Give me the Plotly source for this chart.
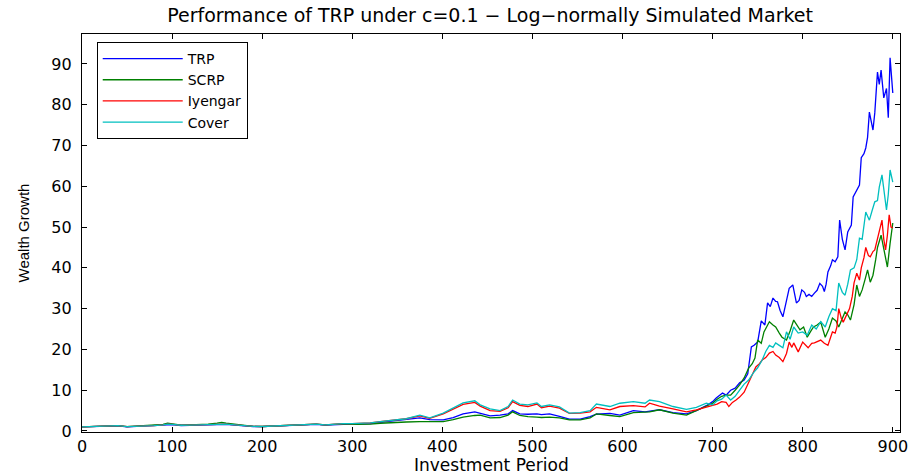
import plotly.graph_objects as go

# ---------------- data ----------------
early_t = [0, 10, 20, 30, 40, 50, 60, 70, 80, 90, 95, 100, 110, 120, 130, 140, 150,
           155, 160, 170, 180, 190, 200, 210, 220, 230, 240, 250, 260, 270, 280, 290, 300,
           310, 320, 331, 345, 360, 375, 386, 401, 412, 423, 436, 442, 453, 464, 473, 478,
           486, 495, 505, 510, 519, 530, 541, 553, 564, 571, 586, 597, 612, 625, 630, 641,
           656, 671, 682, 693]

trp_early = [1.0, 1.1, 1.2, 1.3, 1.25, 1.0, 1.1, 1.2, 1.3, 1.45, 1.6, 1.55, 1.35, 1.4, 1.45,
             1.5, 1.6, 1.7, 1.6, 1.45, 1.25, 1.1, 1.05, 1.15, 1.25, 1.3, 1.35, 1.5, 1.6, 1.45,
             1.6, 1.6, 1.6, 1.7, 1.8, 2.1, 2.4, 2.7, 3.2, 2.8, 2.7, 3.3, 4.2, 4.7, 4.3, 3.7,
             3.9, 4.2, 5.0, 4.2, 4.1, 4.2, 4.0, 4.2, 3.6, 2.9, 2.9, 3.5, 4.1, 4.3, 3.9, 5.0,
             4.7, 4.8, 5.2, 4.5, 4.2, 5.0, 6.2]
scrp_early = [1.0, 1.1, 1.25, 1.35, 1.3, 1.05, 1.15, 1.25, 1.4, 1.6, 1.9, 1.7, 1.45, 1.5,
              1.55, 1.7, 1.9, 2.1, 1.9, 1.6, 1.3, 1.15, 1.1, 1.2, 1.3, 1.35, 1.4, 1.65, 1.7,
              1.5, 1.7, 1.75, 1.6, 1.6, 1.7, 1.9, 2.1, 2.2, 2.3, 2.3, 2.3, 2.8, 3.4, 3.8, 3.9,
              3.2, 3.3, 3.9, 4.7, 3.8, 3.5, 3.4, 3.3, 3.4, 3.2, 2.7, 2.7, 3.2, 4.2, 3.8, 3.5,
              4.5, 4.6, 4.7, 5.2, 4.4, 3.9, 5.0, 6.0]
iyengar_early = [1.0, 1.1, 1.2, 1.3, 1.3, 1.05, 1.1, 1.2, 1.3, 1.5, 1.7, 1.6, 1.4, 1.45, 1.5,
                 1.6, 1.7, 1.8, 1.7, 1.5, 1.3, 1.15, 1.1, 1.2, 1.3, 1.35, 1.4, 1.6, 1.7, 1.5,
                 1.7, 1.8, 1.8, 1.9, 2.0, 2.3, 2.6, 3.0, 3.7, 3.1, 4.2, 5.3, 6.5, 7.0, 6.1,
                 5.0, 4.8, 5.7, 7.2, 6.3, 6.0, 6.6, 5.7, 6.1, 5.6, 4.3, 4.4, 4.7, 5.8, 5.2,
                 6.0, 6.2, 5.9, 6.8, 6.1, 5.4, 4.7, 5.2, 5.9]
cover_early = [1.0, 1.1, 1.2, 1.3, 1.3, 1.05, 1.1, 1.2, 1.3, 1.5, 1.7, 1.6, 1.4, 1.45, 1.5,
               1.6, 1.7, 1.8, 1.7, 1.5, 1.3, 1.15, 1.1, 1.2, 1.3, 1.35, 1.4, 1.6, 1.7, 1.5,
               1.7, 1.8, 1.8, 1.9, 2.0, 2.3, 2.6, 3.0, 3.9, 3.2, 4.4, 5.6, 6.9, 7.4, 6.4,
               5.4, 5.0, 6.0, 7.6, 6.6, 6.4, 6.9, 6.0, 6.4, 5.9, 4.4, 4.5, 5.0, 6.6, 6.0,
               6.8, 7.2, 6.8, 7.6, 7.2, 6.0, 5.3, 5.8, 6.8]

trp_late_t = [700, 704, 711, 715, 720, 725, 730, 735, 739, 743, 746, 750, 754, 758, 761, 764,
              767, 770, 772, 775, 778, 781, 785, 789, 793, 796, 799, 802, 804, 807, 810, 813,
              816, 819, 822, 824, 826, 828, 831, 833, 836, 839, 841, 844, 847, 850, 854, 856,
              860, 863, 865, 868, 870, 872, 874, 876, 878, 880, 883, 885, 887, 890, 893, 895,
              897, 900]
trp_late = [7.2, 8.1, 9.3, 8.8, 10.0, 10.5, 11.8, 12.5, 14.0, 20.6, 21.0, 21.8, 27.0, 26.0,
            31.4, 30.5, 32.6, 31.8, 31.7, 29.5, 28.0, 31.0, 35.0, 35.8, 31.4, 32.0, 34.6, 34.0,
            33.0, 33.5, 33.0, 33.8, 34.5, 36.2, 35.5, 34.2, 36.0, 39.0, 40.5, 42.0, 41.5, 42.7,
            51.7, 47.0, 44.4, 48.8, 50.5, 57.4, 59.0, 60.3, 67.0, 68.0, 69.4, 72.0, 78.2, 76.0,
            73.8, 78.0, 88.0, 85.0, 88.5, 81.7, 84.0, 76.8, 91.5, 82.9]

scrp_late_t = [700, 705, 710, 715, 720, 725, 730, 735, 740, 744, 747, 750, 754, 757, 760, 763,
               767, 770, 774, 777, 782, 786, 790, 794, 797, 801, 805, 809, 812, 816, 820, 825,
               829, 833, 837, 840, 844, 847, 850, 853, 857, 860, 863, 866, 869, 872, 875, 878,
               881, 883, 887, 890, 894, 897, 900]
scrp_late = [6.8, 7.8, 8.5, 8.8, 8.8, 10.0, 11.3, 13.0, 15.4, 16.5, 17.9, 22.3, 21.5, 24.3,
             25.5, 26.8, 26.0, 25.5, 24.0, 23.0, 22.3, 24.5, 27.2, 26.0, 24.8, 25.5, 23.0, 24.5,
             25.5, 26.0, 26.7, 23.0, 25.0, 27.7, 27.0, 25.5, 27.5, 29.2, 28.5, 27.2, 31.0, 35.8,
             33.0, 34.6, 37.0, 39.5, 36.5, 38.2, 42.0, 45.0, 48.0, 44.4, 40.2, 46.0, 51.0]

iyengar_late_t = [700, 705, 710, 715, 718, 722, 726, 730, 735, 740, 744, 748, 752, 755, 759,
                  763, 767, 770, 774, 778, 782, 785, 788, 790, 795, 800, 806, 810, 813, 817,
                  820, 824, 828, 831, 833, 836, 838, 840, 843, 845, 849, 852, 855, 857, 860,
                  863, 865, 868, 870, 873, 875, 878, 880, 883, 885, 888, 890, 892, 894, 896,
                  898, 900]
iyengar_late = [6.2, 6.6, 7.2, 7.0, 6.0, 7.0, 7.6, 8.3, 9.5, 11.8, 13.5, 15.7, 16.5, 17.4, 18.0,
                19.1, 19.5, 18.6, 18.0, 17.0, 19.0, 21.8, 20.5, 21.6, 19.4, 21.8, 20.4, 21.5,
                21.6, 22.0, 22.3, 21.5, 21.0, 23.0, 24.3, 24.0, 25.5, 30.0, 27.5, 26.7, 28.5,
                30.0, 33.0, 36.3, 38.7, 37.0, 40.0, 42.5, 45.0, 43.0, 42.7, 44.0, 44.4, 47.0,
                49.3, 51.7, 47.0, 44.4, 48.0, 53.0, 50.0, 49.8]

cover_late_t = [700, 705, 710, 715, 720, 725, 730, 735, 740, 745, 750, 755, 759, 763, 767, 770,
                774, 778, 782, 786, 790, 795, 800, 805, 810, 815, 820, 825, 829, 833, 837, 840,
                844, 847, 850, 853, 857, 860, 863, 866, 870, 874, 877, 880, 883, 885, 888, 891,
                893, 895, 897, 900]
cover_late = [6.4, 7.4, 7.8, 8.8, 7.6, 8.5, 10.0, 11.5, 12.5, 14.2, 15.5, 17.4, 19.5, 21.0,
              20.5, 21.6, 21.0, 20.4, 24.3, 22.5, 25.5, 24.0, 24.3, 23.5, 26.0, 25.0, 26.8,
              25.5, 28.0, 30.0, 29.5, 36.3, 34.0, 33.3, 36.0, 39.5, 40.0, 42.0, 47.3, 47.0,
              53.7, 51.7, 54.0, 56.2, 56.5, 59.8, 62.8, 58.0, 54.2, 58.0, 64.0, 61.0]

names = ["TRP", "SCRP", "Iyengar", "Cover"]
colors = ["#0000ff", "#008000", "#ff0000", "#00bfbf"]
x_ticks = [0, 100, 200, 300, 400, 500, 600, 700, 800, 900]
y_ticks = [0, 10, 20, 30, 40, 50, 60, 70, 80, 90]

series = [
    (early_t + trp_late_t, trp_early + trp_late),
    (early_t + scrp_late_t, scrp_early + scrp_late),
    (early_t + iyengar_late_t, iyengar_early + iyengar_late),
    (early_t + cover_late_t, cover_early + cover_late),
]

fig = go.Figure()
for name, color, (xs, ys) in zip(names, colors, series):
    fig.add_trace(go.Scatter(x=xs, y=ys, mode="lines", name=name,
                             line=dict(color=color, width=1.3)))

font_main = "DejaVu Sans, Arial, sans-serif"
axis_common = dict(showline=True, mirror="ticks", linecolor="black", linewidth=1.3,
                   ticks="inside", ticklen=5, tickcolor="black", showgrid=False,
                   zeroline=False, automargin=False,
                   tickfont=dict(family=font_main, size=16, color="black"))

fig.update_layout(
    width=916, height=474,
    margin=dict(l=82, r=16, t=34, b=42),
    paper_bgcolor="white", plot_bgcolor="white",
    title=dict(text="Performance of TRP under c=0.1 \u2212 Log\u2212normally Simulated Market",
               x=0.535, xanchor="center", y=0.968, yanchor="middle",
               font=dict(family=font_main, size=19, color="black")),
    xaxis=dict(range=[0, 908], tickvals=x_ticks, ticktext=[str(v) for v in x_ticks],
               ticklabelstandoff=0, **axis_common),
    yaxis=dict(range=[-0.25, 97.35], tickvals=y_ticks, ticktext=[str(v) for v in y_ticks],
               ticklabelstandoff=6,
               title=dict(text="Wealth Growth", standoff=18,
                          font=dict(family="Liberation Sans, Arial, sans-serif", size=15,
                                    color="black")),
               **axis_common),
    legend=dict(x=0.018, y=0.98, xanchor="left", yanchor="top",
                bgcolor="white", bordercolor="black", borderwidth=1,
                font=dict(family=font_main, size=14, color="black"),
                tracegroupgap=0, entrywidth=178, itemwidth=80),
    annotations=[dict(text="Investment Period", xref="paper", yref="paper",
                      x=0.5, y=-0.082, xanchor="center", yanchor="middle",
                      showarrow=False,
                      font=dict(family=font_main, size=17, color="black"))],
    showlegend=True,
)

fig.write_html("out.html")
